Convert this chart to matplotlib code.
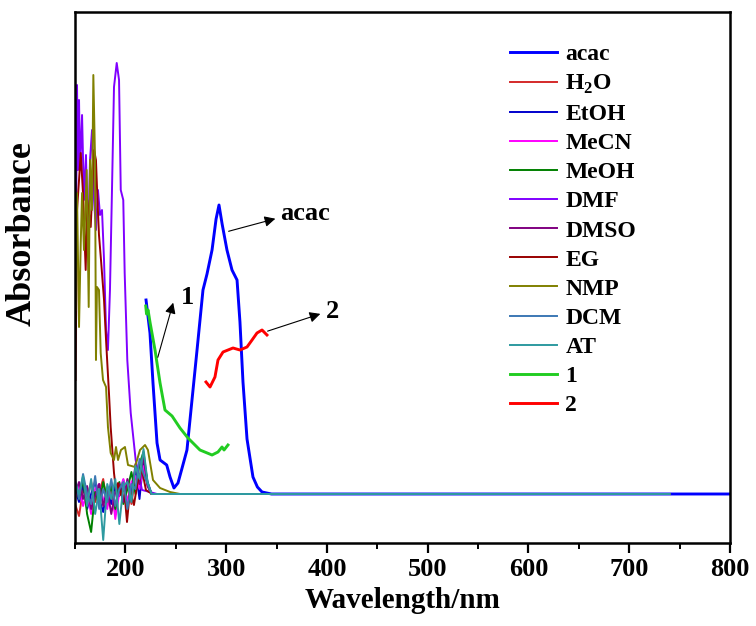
import numpy as np
import matplotlib
matplotlib.use("Agg")
import matplotlib.pyplot as plt
from matplotlib.ticker import MultipleLocator, NullLocator

plt.rcParams["font.family"] = ["Liberation Serif", "DejaVu Serif"]
plt.rcParams["font.weight"] = "bold"
plt.rcParams["mathtext.fontset"] = "custom"
plt.rcParams["mathtext.rm"] = "Liberation Serif:bold"
plt.rcParams["mathtext.bf"] = "Liberation Serif:bold"

# acac
wl_acac = [220.5, 224.4, 227.4, 231.4, 234.4, 241.0, 244.3, 248.2, 252.2, 256, 261.1,
           266.1, 271.1, 277.0, 281, 286.0, 290, 292.9, 296, 300.8, 305.8, 310.8,
           313.7, 316.7, 320.7, 326.6, 331, 335.6, 345, 800]
abs_acac = [1.94, 1.61, 1.11, 0.51, 0.34, 0.29, 0.17, 0.06, 0.11, 0.25, 0.44,
            0.94, 1.44, 2.04, 2.20, 2.44, 2.75, 2.89, 2.70, 2.44, 2.24, 2.14,
            1.72, 1.12, 0.55, 0.17, 0.07, 0.02, 0.0, 0.0]

# complex 1 and 2
wl_1 = [220.2, 221.0, 222.5, 224.4, 229.4, 234.4, 239.3, 246.3, 254.2, 262.1,
        274.0, 286.0, 291.9, 295.9, 297.9, 301.8]
abs_1 = [1.88, 1.80, 1.84, 1.72, 1.44, 1.11, 0.84, 0.78, 0.66, 0.56,
         0.44, 0.39, 0.42, 0.47, 0.44, 0.49]
wl_2 = [280.0, 284.0, 288.9, 291.9, 296.9, 306.8, 313.7, 320.7, 325.7, 330.6, 335.6, 340.5]
abs_2 = [1.12, 1.07, 1.17, 1.34, 1.42, 1.46, 1.44, 1.47, 1.54, 1.61, 1.64, 1.59]

# noisy solvent spectra (short-wavelength part), flat afterwards up to 740 nm
wl_noise = [150, 154, 158, 162, 166, 170, 174, 178, 182, 186, 190, 194, 198, 202,
            206, 210, 214, 218, 222, 226, 232, 740]
abs_h2o = [-0.10, -0.22, 0.05, -0.05, 0.12, -0.08, 0.02, 0.15, -0.12, 0.05, -0.20,
           0.08, -0.05, 0.10, -0.10, 0.20, 0.05, 0.30, 0.10, 0.0, 0.0, 0.0]
abs_etoh = [0.05, -0.08, 0.10, -0.15, 0.00, 0.12, -0.05, -0.18, 0.06, -0.10, 0.10,
            -0.02, 0.14, -0.12, 0.05, 0.25, -0.05, 0.35, 0.12, 0.0, 0.0, 0.0]
abs_mecn = [-0.05, 0.08, -0.12, 0.02, -0.20, 0.05, 0.10, -0.05, -0.15, 0.12, -0.25,
            0.02, 0.15, -0.08, 0.12, 0.18, 0.05, 0.28, 0.08, 0.0, 0.0, 0.0]
abs_meoh = [0.10, -0.05, 0.15, -0.20, -0.38, 0.02, -0.10, 0.12, -0.05, 0.08, -0.15,
            0.12, -0.10, 0.05, 0.22, 0.00, 0.30, 0.42, 0.10, 0.0, 0.0, 0.0]
abs_dmso = [0.00, 0.12, -0.05, 0.08, -0.15, -0.02, 0.10, -0.12, 0.05, -0.20, 0.02,
            0.10, -0.08, 0.15, -0.05, 0.30, 0.10, 0.38, 0.08, 0.0, 0.0, 0.0]
abs_dcm = [0.15, -0.05, 0.20, 0.00, -0.10, 0.18, -0.15, 0.05, -0.08, 0.15, -0.12,
           0.05, 0.12, -0.15, 0.10, 0.05, 0.35, 0.20, 0.10, 0.0, 0.0, 0.0]
abs_at = [0.12, 0.00, 0.18, -0.12, 0.15, -0.20, 0.05, -0.46, 0.10, -0.05, 0.15,
          -0.30, 0.08, 0.12, -0.08, 0.28, 0.15, 0.45, 0.12, 0.0, 0.0, 0.0]

# solvents with strong short-wavelength absorption
wl_dmf = [150.0, 151.0, 152.0, 153.0, 154.0, 155.0, 157.0, 158.9, 160.9, 162.9, 164.9,
          166.9, 168.9, 170.8, 172.8, 174.8, 176.8, 178.8, 180.8, 182.7, 184.7, 186.7,
          188.7, 191.4, 193.7, 195.4, 197.9, 199.3, 201.9, 205.3, 210.2, 216.5, 224.4,
          231.4, 740]
abs_dmf = [1.50, 2.60, 4.09, 3.24, 3.94, 3.24, 3.79, 2.94, 3.39, 2.44, 3.34,
           3.64, 2.94, 2.64, 3.04, 2.79, 2.84, 2.34, 1.64, 1.44, 2.04, 3.04,
           4.07, 4.31, 4.14, 3.04, 2.94, 2.21, 1.34, 0.81, 0.34, 0.04, 0.02,
           0.0, 0.0]
wl_eg = [150.5, 152.0, 154.0, 155.7, 157.9, 160.6, 162.2, 165.6, 168.9, 170.8, 172.3,
         173.8, 175.8, 178.8, 180.8, 183.7, 185.4, 188.7, 190.7, 192.7, 195.6, 198.6,
         201.6, 204.6, 208.5, 212.5, 216.5, 220.4, 226.4, 740]
abs_eg = [1.14, 2.84, 3.14, 3.41, 3.01, 2.24, 2.94, 2.67, 3.44, 3.34, 2.94,
          2.59, 2.34, 1.94, 1.54, 1.01, 0.67, 0.21, 0.04, 0.11, -0.01, 0.07,
          -0.28, 0.04, -0.11, 0.14, 0.24, 0.04, 0.0, 0.0]
wl_nmp = [150.5, 152.0, 154.0, 155.7, 157.0, 158.9, 161.6, 163.6, 164.9, 166.9, 168.2,
          169.9, 170.8, 171.8, 173.8, 175.5, 177.8, 180.8, 182.7, 185.4, 188.7, 190.7,
          192.7, 195.6, 199.6, 202.6, 209.5, 214.5, 219.5, 222.4, 227.4, 234.4, 244.3,
          254.2, 740]
abs_nmp = [1.84, 3.01, 1.67, 2.51, 3.01, 2.44, 3.24, 1.87, 3.34, 2.84, 4.19,
           3.34, 1.34, 2.07, 2.04, 1.41, 1.14, 1.07, 0.67, 0.41, 0.34, 0.47,
           0.34, 0.44, 0.47, 0.29, 0.27, 0.44, 0.49, 0.44, 0.14, 0.06, 0.02,
           0.0, 0.0]

fig = plt.figure(figsize=(7.56, 6.26), dpi=100)
ax = fig.add_axes([75 / 756, 83 / 626, 655 / 756, 531 / 626])

thin = 1.4
thick = 2.1
ax.plot(wl_acac, abs_acac, color="#0000ff", lw=thick, label="acac")
ax.plot(wl_noise, abs_h2o, color="#d42a2a", lw=thin, label=r"H$_2$O")
ax.plot(wl_noise, abs_etoh, color="#0000cc", lw=thin, label="EtOH")
ax.plot(wl_noise, abs_mecn, color="#ff00ff", lw=thin, label="MeCN")
ax.plot(wl_noise, abs_meoh, color="#008000", lw=thin, label="MeOH")
ax.plot(wl_dmf, abs_dmf, color="#8000ff", lw=thin, label="DMF")
ax.plot(wl_noise, abs_dmso, color="#800080", lw=thin, label="DMSO")
ax.plot(wl_eg, abs_eg, color="#990000", lw=thin, label="EG")
ax.plot(wl_nmp, abs_nmp, color="#808000", lw=thin, label="NMP")
ax.plot(wl_noise, abs_dcm, color="#3c78b4", lw=thin, label="DCM")
ax.plot(wl_noise, abs_at, color="#2e9aa0", lw=thin, label="AT")
ax.plot(wl_1, abs_1, color="#22cc22", lw=thick, label="1")
ax.plot(wl_2, abs_2, color="#ff0000", lw=thick, label="2")

ax.set_xlim(150, 800)
ax.set_ylim(-0.49, 4.82)
ax.xaxis.set_major_locator(MultipleLocator(100))
ax.xaxis.set_minor_locator(MultipleLocator(50))
ax.yaxis.set_major_locator(NullLocator())
ax.tick_params(axis="x", which="major", direction="out", length=7, width=1.6,
               labelsize=19, pad=4)
ax.tick_params(axis="x", which="minor", direction="out", length=4, width=1.4)
for s in ax.spines.values():
    s.set_linewidth(1.8)

ax.set_xlabel("Wavelength/nm", fontsize=21, fontweight="bold")
ax.xaxis.set_label_coords(0.5, -0.082)
ax.set_ylabel("Absorbance", fontsize=26, fontweight="bold")
ax.yaxis.set_label_coords(-0.056, 0.582)

arrow = dict(arrowstyle="-|>", color="black", lw=0.8, mutation_scale=16)
ax.annotate("", xy=(351.5, 2.76), xytext=(299.8, 2.62), arrowprops=arrow)
ax.text(354, 2.80, "acac", fontsize=19, fontweight="bold", va="center", ha="left")
ax.annotate("", xy=(396.1, 1.81), xytext=(338.5, 1.62), arrowprops=arrow)
ax.text(406, 1.82, "2", fontsize=19, fontweight="bold", va="center", ha="center")
ax.annotate("", xy=(248.2, 1.94), xytext=(231.4, 1.34), arrowprops=arrow)
ax.text(262, 1.97, "1", fontsize=19, fontweight="bold", va="center", ha="center")

ax.legend(loc="upper left", bbox_to_anchor=(0.664, 0.94), frameon=False,
          fontsize=17, handlelength=2.0, handletextpad=0.35, labelspacing=0.32,
          borderpad=0, borderaxespad=0)

fig.savefig("out.png", dpi=100)
